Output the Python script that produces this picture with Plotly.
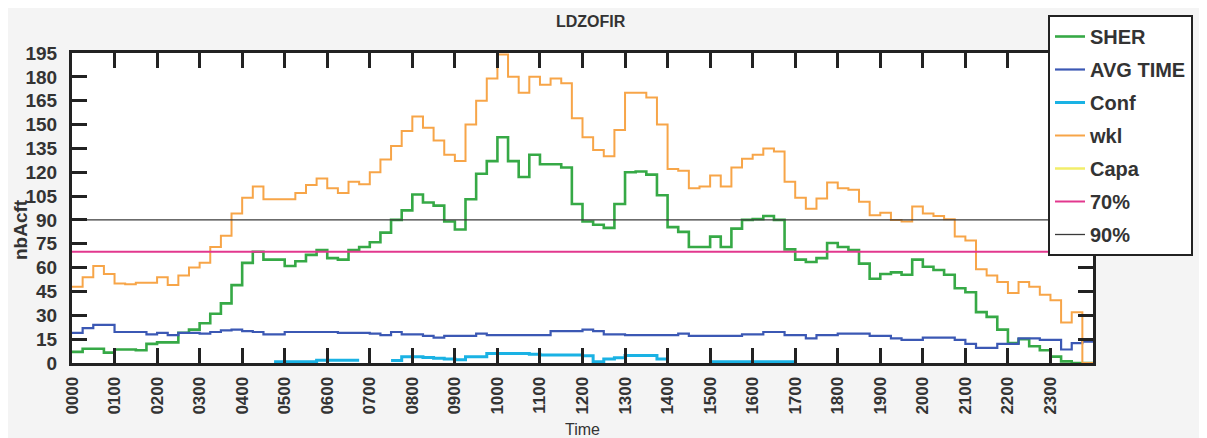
import plotly.graph_objects as go

# ---------------- data (15-minute bins, 96 per day) ----------------
hours = list(range(24))
hour_labels = [f"{h:02d}00" for h in hours]
y_ticks = list(range(0, 196, 15))
BIN_HOURS = 0.25

sher = [7, 9, 9, 6.5, 8.5, 8.5, 8, 12, 13, 13, 19, 21, 25, 31, 37.5, 49,
        63, 70, 65, 65, 61, 64, 68, 71, 66, 65, 71, 73, 76, 82, 90, 96,
        106, 101, 99, 89, 84, 103, 119, 127, 142, 127, 117, 131, 125, 125, 123, 100,
        89, 87, 85, 100, 120, 120.5, 118.5, 105.5, 85.5, 82.5, 73, 73, 79.5, 73, 84.5, 90,
        90.5, 92.5, 90, 71.5, 65, 63.5, 66, 75.5, 73, 71, 62.5, 53, 56, 57, 55.5, 65,
        60.5, 58.5, 55.5, 47, 44.5, 32, 29, 21, 12.5, 15, 10.5, 8, 4, 1, 0, 0]

avg_time = [19, 22, 24, 24, 19.5, 19.5, 19.5, 18, 19, 17.5, 19, 19, 18.5, 19.5, 20.5, 21,
            20, 19.5, 18, 18, 19.5, 19.5, 19.5, 19.5, 19.5, 19, 19, 19, 18.5, 17.5, 19.5, 18,
            18, 17, 16, 17, 17, 17, 18.5, 17.5, 17.5, 17.5, 17.5, 17.5, 17.5, 20, 20, 20,
            21, 20, 18, 18, 17.5, 17.5, 17.5, 17.5, 17.5, 18.5, 17, 17, 17, 17, 17, 18,
            18, 19.5, 19.5, 17.5, 17.5, 15.5, 17.5, 17.5, 18.5, 18.5, 18.5, 17, 17, 15.5, 14.5, 14.5,
            16, 16, 16, 14.5, 12, 9.5, 9.5, 12, 12, 15.5, 15.5, 14.5, 14.5, 8.5, 12.5, 13.5]

conf = ([None] * 19 + [0.8, 0.8, 0.8, 0.8, 1.8, 1.8, 1.8, 1.8] + [None] * 3 +
        [1.5, 4, 4, 3.5, 3, 2.5, 2, 4, 4, 6, 6, 6, 6, 5.5, 5, 5, 5, 5,
         4.5, 0.8, 2.5, 3.3, 4.7, 4.7, 4.7, 2.5] + [None] * 4 +
        [0.8] * 8 + [None] * 28)

wkl = [48, 54, 61, 56, 50, 49.5, 50.5, 50.5, 54, 49, 55, 60, 63, 73, 80, 94,
       104, 111, 103, 103, 103, 107, 112, 116, 110, 107, 114, 112.5, 120, 128, 136.5, 146,
       155, 148, 140, 131, 127, 150, 165, 179, 194, 180, 170, 180, 175, 179, 176, 154,
       142, 134, 130, 146.5, 170, 170, 167, 150, 122, 121, 110, 111, 118, 111, 123, 128.5,
       131, 135, 133, 114, 104, 97, 103.5, 113.5, 110, 109, 101.5, 93, 94.5, 90, 89, 98.5,
       94, 92.5, 90.5, 79.5, 77, 59, 55, 51, 44, 51, 48, 43, 39.5, 25.5, 32, 0]

capa = [None]      # Capa series: no visible points in the reference
pct70 = 70
pct90 = 90
x_range = [0, 24]

# ---------------- helpers ----------------
def steps(values):
    xs, ys = [], []
    open_seg = False
    for k, v in enumerate(values):
        if v is None:
            if open_seg:
                xs.append(None)
                ys.append(None)
            open_seg = False
            continue
        xs += [k * BIN_HOURS, (k + 1) * BIN_HOURS]
        ys += [v, v]
        open_seg = True
    return xs, ys

GREEN = "#36a946"
BLUE = "#3b58b4"
CYAN = "#1ab2e4"
ORANGE = "#f7a548"
YELLOW = "#f2ee6a"
PINK = "#e2388e"
BLACK = "#3a3a3a"
FONT = "Liberation Sans, Arial, sans-serif"
TXT = "#333333"

fig = go.Figure()

def add_step(name, values, color, width):
    xs, ys = steps(values)
    fig.add_trace(go.Scatter(x=xs, y=ys, mode="lines", name=name, legendgroup=name,
                             line=dict(color=color, width=width), connectgaps=False))

add_step("SHER", sher, GREEN, 2.6)
add_step("AVG TIME", avg_time, BLUE, 2.2)
add_step("Conf", conf, CYAN, 3)
add_step("wkl", wkl, ORANGE, 2)
fig.add_trace(go.Scatter(x=capa, y=capa, mode="lines", name="Capa", legendgroup="Capa",
                         line=dict(color=YELLOW, width=2.5)))
fig.add_trace(go.Scatter(x=x_range, y=[pct70, pct70], mode="lines", name="70%", legendgroup="70%",
                         line=dict(color=PINK, width=2)))
fig.add_trace(go.Scatter(x=x_range, y=[pct90, pct90], mode="lines", name="90%", legendgroup="90%",
                         line=dict(color=BLACK, width=1.3)))

axis_common = dict(showline=True, linecolor="#222222", linewidth=3, mirror="ticks",
                   ticks="inside", ticklen=15, tickwidth=2.5, tickcolor="#222222",
                   showgrid=False, zeroline=False)

fig.update_xaxes(range=x_range, tickmode="array", tickvals=hours, ticktext=hour_labels,
                 tickangle=-90, ticklabelstandoff=4,
                 tickfont=dict(family=FONT, size=17, color=TXT, weight="bold"), **axis_common)
fig.update_yaxes(range=[0, 195], tickmode="array", tickvals=y_ticks, ticklabelstandoff=8,
                 tickfont=dict(family=FONT, size=19, color=TXT, weight="bold"), **axis_common)

# page body adds an 8px offset; figure is sized so the plot lands at page x 72-1093, y 53-363
fig.update_layout(
    width=1199, height=430,
    margin=dict(l=64, r=114, t=45, b=75, autoexpand=False),
    paper_bgcolor="#f4f4f4", plot_bgcolor="#ffffff",
    showlegend=True,
    legend=dict(x=(1048 - 72) / 1021, xanchor="left", y=(363 - 15) / 310, yanchor="top",
                bgcolor="#ffffff", bordercolor="#222222", borderwidth=2,
                font=dict(family=FONT, size=20, color=TXT, weight="bold"),
                tracegroupgap=4, traceorder="grouped", entrywidth=165, maxheight=300),
    annotations=[
        dict(text="LDZOFIR", xref="paper", yref="paper", x=(591 - 72) / 1021, y=(363 - 22) / 310,
             xanchor="center", yanchor="middle", showarrow=False,
             font=dict(family=FONT, size=16, color=TXT, weight="bold")),
        dict(text="nbAcft", xref="paper", yref="paper", x=(20 - 72) / 1021, y=(363 - 230) / 310,
             xanchor="center", yanchor="middle", showarrow=False, textangle=-90,
             font=dict(family=FONT, size=19, color=TXT, weight="bold")),
        dict(text="Time", xref="paper", yref="paper", x=0.5, y=(363 - 429) / 310,
             xanchor="center", yanchor="middle", showarrow=False,
             font=dict(family="Liberation Sans Narrow, Liberation Sans, Arial", size=16, color=TXT)),
    ],
)

fig.write_html("out.html")
